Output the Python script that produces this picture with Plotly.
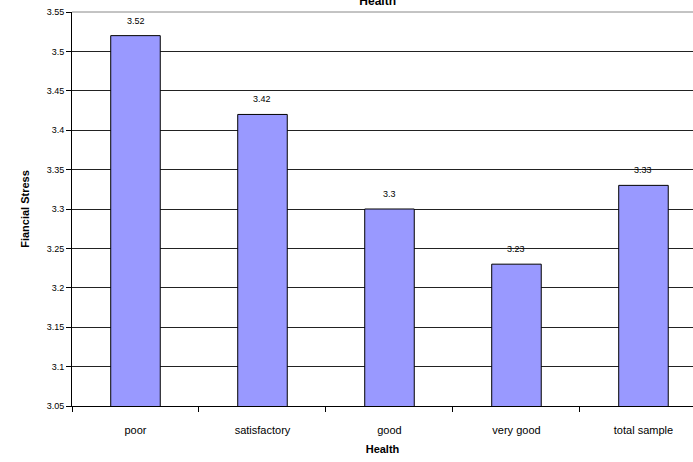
import plotly.graph_objects as go

categories = ["poor", "satisfactory", "good", "very good", "total sample"]
values = [3.52, 3.42, 3.3, 3.23, 3.33]
label_text = ["3.52", "3.42", "3.3", "3.23", "3.33"]
y_ticks = [3.05, 3.1, 3.15, 3.2, 3.25, 3.3, 3.35, 3.4, 3.45, 3.5, 3.55]
y_tick_text = ["3.05", "3.1", "3.15", "3.2", "3.25", "3.3", "3.35", "3.4", "3.45", "3.5", "3.55"]

fig = go.Figure()
fig.add_trace(go.Bar(
    x=categories, y=values,
    marker=dict(color="#9999ff", line=dict(color="#000000", width=1)),
    width=0.39,
))

for c, v, t in zip(categories, values, label_text):
    fig.add_annotation(x=c, y=v, text=t, showarrow=False, yanchor="bottom", yshift=8,
                       font=dict(family="Liberation Sans, Arial", size=9, color="#000000"))

fig.update_layout(
    width=693, height=462,
    margin=dict(l=72, r=0, t=12, b=56),
    paper_bgcolor="white", plot_bgcolor="white",
    showlegend=False,
    font=dict(family="Liberation Sans, Arial", color="#000000"),
    title=dict(text="<b>Health</b>", x=0.545, xanchor="center", y=0.999, yanchor="middle",
               font=dict(size=12, family="Liberation Sans, Arial")),
    xaxis=dict(
        type="category", range=[-0.5, 4.39],
        tickson="boundaries", ticks="outside", ticklen=5, tickcolor="#000000",
        showline=True, linecolor="#000000", linewidth=1,
        showgrid=False,
        tickfont=dict(size=11),
        ticklabelstandoff=14,
        title=dict(text="<b>Health</b>", font=dict(size=11), standoff=10),
    ),
    yaxis=dict(
        range=[3.05, 3.55], tickvals=y_ticks, ticktext=y_tick_text,
        ticks="outside", ticklen=5, tickcolor="#000000",
        showline=True, linecolor="#000000", linewidth=1,
        showgrid=True, gridcolor="#222222", gridwidth=1,
        zeroline=False,
        tickfont=dict(size=9),
        title=dict(text="<b>Fiancial Stress</b>", font=dict(size=11), standoff=14),
    ),
    shapes=[dict(type="line", xref="paper", yref="paper", x0=0, x1=1, y0=1, y1=1,
                 line=dict(color="#888888", width=1))],
)

fig.write_html("out.html")
